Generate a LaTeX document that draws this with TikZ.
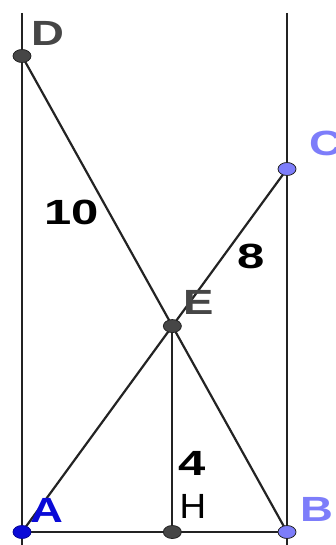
\documentclass[tikz,border=0pt]{standalone}
\usepackage{fontspec}
\setmainfont{Liberation Sans}
\definecolor{ptblue}{RGB}{10,10,215}
\definecolor{ptlight}{RGB}{125,125,250}
\definecolor{lbgray}{RGB}{70,70,70}
\definecolor{lnclr}{RGB}{35,35,35}
\begin{document}
\begin{tikzpicture}[x=1pt,y=-1pt,
  seg/.style={draw=lnclr, line width=2.2pt},
  lbl/.style={font=\fontsize{35}{35}\selectfont\bfseries, inner sep=0pt},
  thinlbl/.style={font=\fontsize{35}{35}\selectfont, inner sep=0pt},
  num/.style={font=\fontsize{35}{35}\selectfont\bfseries, inner sep=0pt, text=black},
  ptdark/.style={fill=lbgray, draw=lnclr, line width=0.8pt},
  ptA/.style={fill=ptblue, draw=ptblue!70!black, line width=0.8pt},
  ptL/.style={fill=ptlight, draw=lnclr, line width=0.8pt}]
\useasboundingbox (0,0) rectangle (335,545);
% points
\coordinate (A) at (22,532);
\coordinate (B) at (287,532);
\coordinate (C) at (287,169);
\coordinate (D) at (22,56);
\coordinate (E) at (intersection of A--C and D--B);
\coordinate (H) at (E |- A);
\coordinate (Ltop) at (22,13);
\coordinate (Lbot) at (22,545);
\coordinate (Rtop) at (287,13);
\coordinate (Rbot) at (287,545);
% lines
\draw[seg] (Ltop) -- (Lbot);
\draw[seg] (Rtop) -- (Rbot);
\draw[seg] (A) -- (B);
\draw[seg] (D) -- (B);
\draw[seg] (A) -- (C);
\draw[seg] (E) -- (H);
% point markers
\path[ptdark] (D) ellipse [x radius=9pt, y radius=6.5pt];
\path[ptdark] (E) ellipse [x radius=9pt, y radius=6.5pt];
\path[ptdark] (H) ellipse [x radius=9pt, y radius=6.5pt];
\path[ptA] (A) ellipse [x radius=9pt, y radius=6.5pt];
\path[ptL] (B) ellipse [x radius=9pt, y radius=6.5pt];
\path[ptL] (C) ellipse [x radius=9pt, y radius=6.5pt];
% labels
\node[lbl, text=lbgray] (lD) at (48,33) {\scalebox{1.3}[1]{D}};
\node[lbl, text=ptlight] (lC) at (326,143) {\scalebox{1.3}[1]{C}};
\node[lbl, text=lbgray] (lE) at (199,302) {\scalebox{1.3}[1]{E}};
\node[lbl, text=ptblue] (lA) at (47,510) {\scalebox{1.3}[1]{A}};
\node[lbl, text=ptlight] (lB) at (317,509) {\scalebox{1.3}[1]{B}};
\node[thinlbl, text=black] (lH) at (193,506) {\scalebox{1.05}[1]{H}};
\node[num] (n10) at (72,212) {\scalebox{1.4}[1]{10}};
\node[num] (n8) at (251,256) {\scalebox{1.4}[1]{8}};
\node[num] (n4) at (192,463) {\scalebox{1.4}[1]{4}};
\end{tikzpicture}
\end{document}
